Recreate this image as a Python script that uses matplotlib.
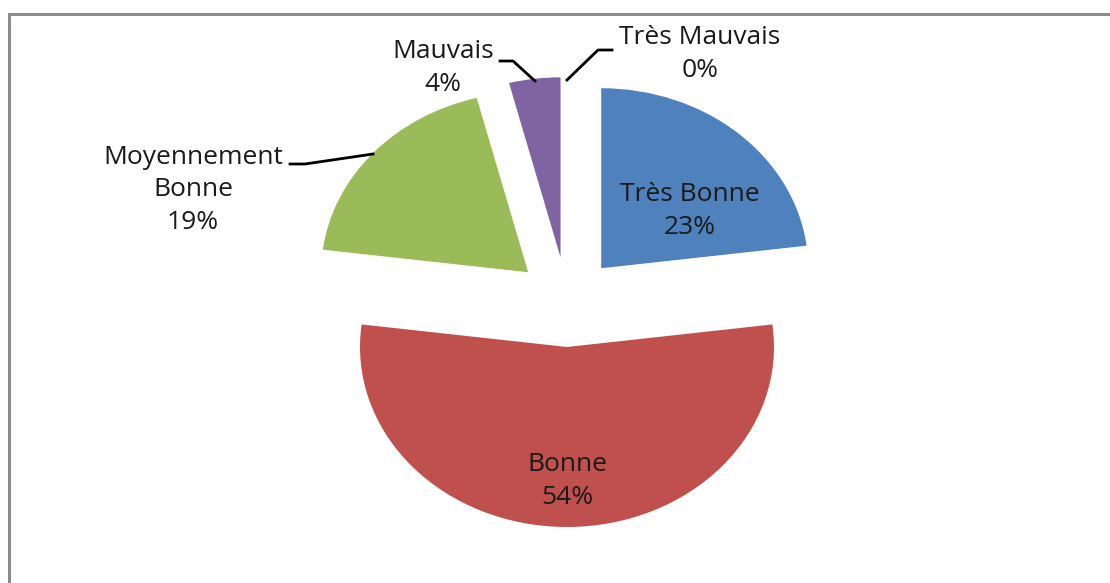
import matplotlib.pyplot as plt
from matplotlib.patches import Rectangle

categories = ['Très Bonne', 'Bonne', 'Moyennement\nBonne', 'Mauvais', 'Très Mauvais']
values = [23, 54, 19, 4, 0]
colors = ['#4F81BD', '#C0504D', '#9BBB59', '#8064A2', '#4BACC6']

W, H = 1110, 583
# pie centre and radii in pixels (the pie is flattened)
cx, cy = 567, 302
rx, ry = 207, 180

plt.rcParams['font.family'] = ['Open Sans', 'DejaVu Sans']

fig = plt.figure(figsize=(W / 100, H / 100), dpi=100)
ax = fig.add_axes([0, 0, 1, 1])

wedges, _ = ax.pie(values, colors=colors, startangle=90, counterclock=False,
                   explode=[0.25] * len(values), radius=1,
                   wedgeprops=dict(linewidth=0))
ax.set_aspect('auto')
# map pixel space so that one unit is rx px horizontally, ry px vertically
ax.set_xlim((0 - cx) / rx, (W - cx) / rx)
ax.set_ylim((cy - H) / ry, (cy - 0) / ry)
ax.axis('off')


def px(x, y):
    return ((x - cx) / rx, (cy - y) / ry)


total = sum(values)
fs = 19
ls = 1.38
tc = '#1a1a1a'


def label(i, x, y):
    pct = round(values[i] / total * 100)
    ax.text(*px(x, y), '%s\n%d%%' % (categories[i], pct), ha='center', va='center',
            fontsize=fs, linespacing=ls, color=tc)


# inside labels
label(0, 690, 211)
label(1, 567, 481)

# outside labels with leader lines
label(2, 193, 190)
ax.plot(*zip(px(290, 164), px(305, 164), px(373, 154)), color='black', lw=2)

label(3, 443, 68)
ax.plot(*zip(px(500, 61), px(513, 61), px(535, 81)), color='black', lw=2)

label(4, 700, 54)
ax.plot(*zip(px(567, 80), px(598, 50), px(612, 50)), color='black', lw=2)

# chart area border (only top and left edges are visible)
fig.patches.append(Rectangle((8.5 / W, -0.1), 1.2, 1.1 - 14.5 / H, transform=fig.transFigure,
                             fill=False, edgecolor='#8c8c8c', linewidth=2.2))

fig.savefig('out.png', dpi=100)
